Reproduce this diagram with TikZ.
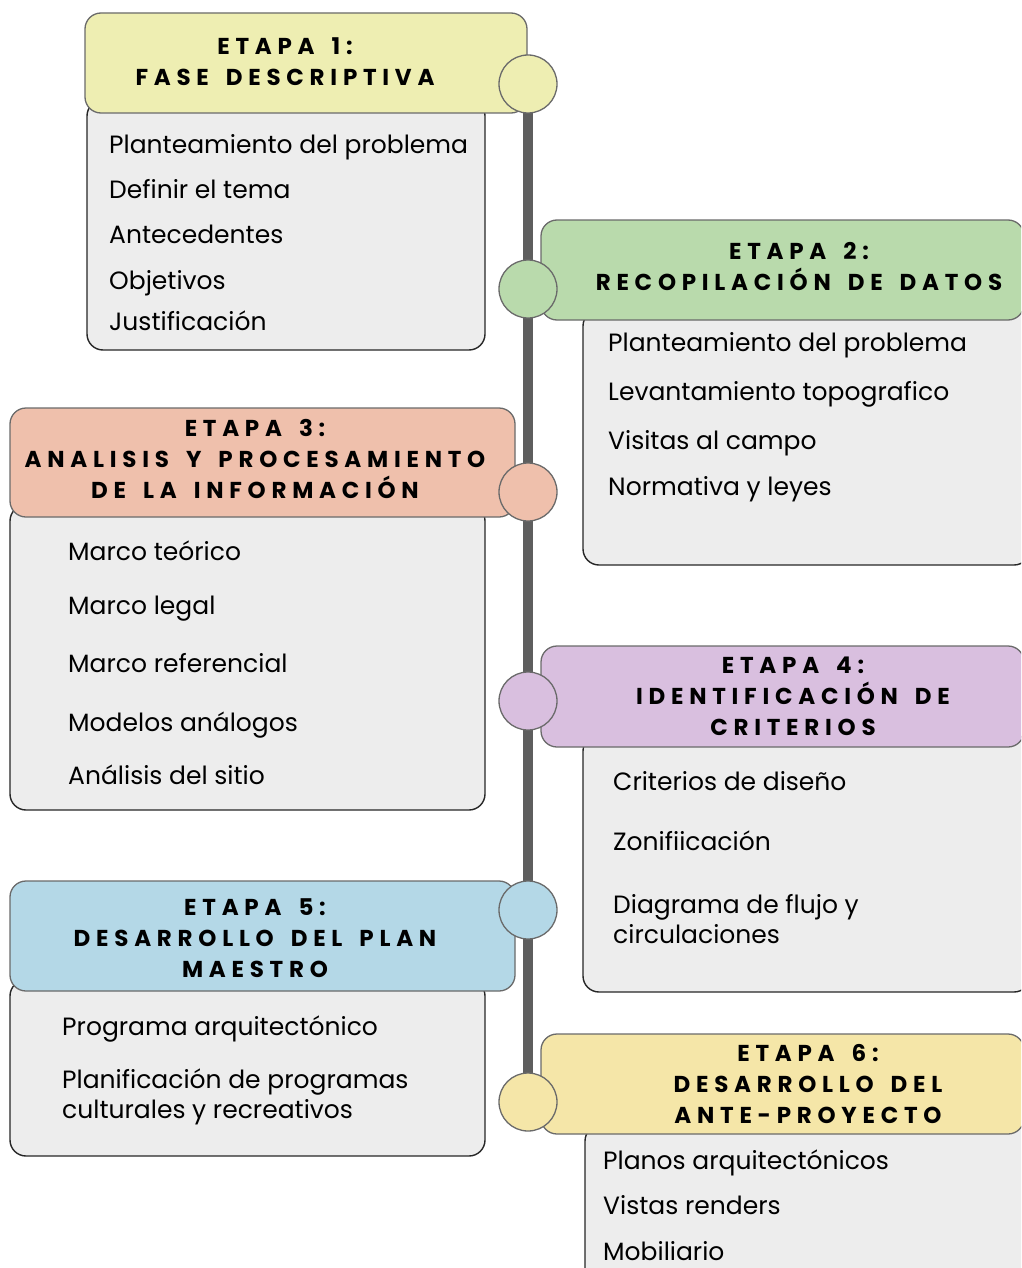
\documentclass[tikz,border=0pt]{standalone}
\usepackage{fontspec}
\setmainfont{Poppins}
\newfontfamily\etapafont[LetterSpace=25,WordSpace=1.6]{Poppins}
\usetikzlibrary{positioning}
\definecolor{borde}{HTML}{6A6A6A}
\definecolor{cuerpogris}{HTML}{EDEDED}
\definecolor{linea}{HTML}{5E5E5E}
\definecolor{eta1}{HTML}{EEEEB2}
\definecolor{eta2}{HTML}{B9DAAC}
\definecolor{eta3}{HTML}{EFC0AC}
\definecolor{eta4}{HTML}{D9BFDF}
\definecolor{eta5}{HTML}{B4D8E7}
\definecolor{eta6}{HTML}{F5E6A8}
\tikzset{
	cabecera/.style = {draw=borde, line width=1.3pt, rounded corners=16pt},
	cuerpo/.style = {draw=black!85, fill=cuerpogris, line width=1.4pt, rounded corners=16pt},
	hito/.style = {circle, draw=borde, line width=1.3pt, minimum size=58pt, inner sep=0},
	titulo/.style = {align=center, inner sep=0, font=\etapafont\bfseries\fontsize{23}{31}\selectfont},
	item/.style = {anchor=west, inner sep=0, align=left, font=\fontsize{25}{30}\selectfont},
	linea1/.style = {item, text height=0.72em, text depth=0.22em}
}

\begin{document}
\begin{tikzpicture}[x=1pt, y=-1pt]
	\useasboundingbox (0,0) rectangle (1021,1268);
	\clip (0,0) rectangle (1021,1268);
	
	\coordinate (arriba) at (528,84);
	\coordinate (abajo) at (528,1102);
	\draw [linea, line width=10pt] (arriba) -- (abajo);
	
	% etapa 1
	\draw [cuerpo] (87,100) rectangle (485,350);
	\draw [cabecera, fill=eta1] (85,13) rectangle (527,113);
	\node [titulo] (t1) at (285,62) {ETAPA 1:\\FASE DESCRIPTIVA};
	\node [linea1] (a1) at (109,151) {Planteamiento del problema};
	\node [linea1] (a2) at (109,196) {Definir el tema};
	\node [linea1] (a3) at (109,241) {Antecedentes};
	\node [linea1] (a4) at (109,287) {Objetivos};
	\node [linea1] (a5) at (109,328) {Justificación};
	
	% etapa 2
	\draw [cuerpo] (583,310) rectangle (1030,565);
	\draw [cabecera, fill=eta2] (541,220) rectangle (1024,320);
	\node [titulo] (t2) at (799,266) {ETAPA 2:\\RECOPILACIÓN DE DATOS};
	\node [linea1] (b1) at (608,349) {Planteamiento del problema};
	\node [linea1] (b2) at (608,398) {Levantamiento topografico};
	\node [linea1] (b3) at (608,447) {Visitas al campo};
	\node [linea1] (b4) at (608,493) {Normativa y leyes};
	
	% etapa 3
	\draw [cuerpo] (10,505) rectangle (485,810);
	\draw [cabecera, fill=eta3] (10,408) rectangle (515,517);
	\node [titulo] (t3) at (255,459) {ETAPA 3:\\ANALISIS Y PROCESAMIENTO\\DE LA INFORMACIÓN};
	\node [linea1] (c1) at (68,558) {Marco teórico};
	\node [linea1] (c2) at (68,612) {Marco legal};
	\node [linea1] (c3) at (68,670) {Marco referencial};
	\node [linea1] (c4) at (68,729) {Modelos análogos};
	\node [linea1] (c5) at (68,782) {Análisis del sitio};
	
	% etapa 4
	\draw [cuerpo] (583,735) rectangle (1030,992);
	\draw [cabecera, fill=eta4] (541,646) rectangle (1024,747);
	\node [titulo] (t4) at (793,696) {ETAPA 4:\\IDENTIFICACIÓN DE\\CRITERIOS};
	\node [linea1] (d1) at (613,788) {Criterios de diseño};
	\node [linea1] (d2) at (613,848) {Zonifiicación};
	\node [item] (d3) at (613,919) {Diagrama de flujo y\\circulaciones};
	
	% etapa 5
	\draw [cuerpo] (10,980) rectangle (485,1156);
	\draw [cabecera, fill=eta5] (10,881) rectangle (515,991);
	\node [titulo] (t5) at (255,938) {ETAPA 5:\\DESARROLLO DEL PLAN\\MAESTRO};
	\node [linea1] (e1) at (62,1033) {Programa arquitectónico};
	\node [item] (e2) at (62,1097) {Planificación de programas\\culturales y recreativos};
	
	% etapa 6
	\draw [cuerpo] (585,1125) rectangle (1030,1300);
	\draw [cabecera, fill=eta6] (541,1034) rectangle (1024,1134);
	\node [titulo] (t6) at (808,1084) {ETAPA 6:\\DESARROLLO DEL\\ANTE-PROYECTO};
	\node [linea1] (f1) at (603,1167) {Planos arquitectónicos};
	\node [linea1] (f2) at (603,1212) {Vistas renders};
	\node [linea1] (f3) at (603,1258) {Mobiliario};
	
	\node [hito, fill=eta1] (h1) at (arriba) {};
	\node [hito, fill=eta2] (h2) at (528,289) {};
	\node [hito, fill=eta3] (h3) at (528,492) {};
	\node [hito, fill=eta4] (h4) at (528,701) {};
	\node [hito, fill=eta5] (h5) at (528,910) {};
	\node [hito, fill=eta6] (h6) at (abajo) {};
\end{tikzpicture}
\end{document}
